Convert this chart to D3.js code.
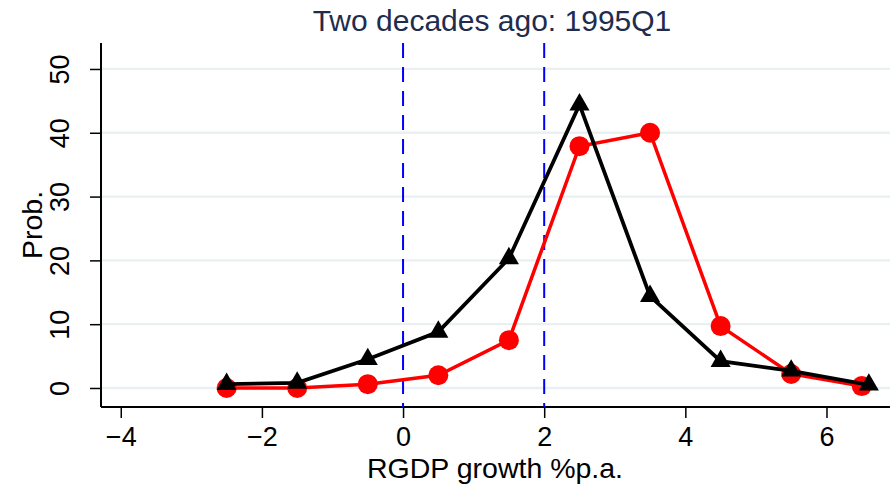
<!DOCTYPE html>
<html>
<head>
<meta charset="utf-8">
<script src="https://cdn.jsdelivr.net/npm/d3@7"></script>
<style>
  body { margin: 0; background: #fff; }
  svg { display: block; font-family: "Liberation Sans", Arial, sans-serif; }
</style>
</head>
<body>
<div id="chart_div"></div>
<script>
// values
const redBins = [-2.5, -1.5, -0.5, 0.5, 1.5, 2.5, 3.5, 4.5, 5.5, 6.5];
const redProb = [0, 0, 0.6, 2.0, 7.5, 37.9, 40.0, 9.7, 2.2, 0.3];
const blackBins = [-2.5, -1.5, -0.5, 0.5, 1.5, 2.5, 3.5, 4.5, 5.5, 6.6];
const blackProb = [0.6, 0.8, 4.5, 8.8, 20.3, 44.4, 14.4, 4.2, 2.7, 0.5];
const xTicks = [-4, -2, 0, 2, 4, 6];
const yTicks = [0, 10, 20, 30, 40, 50];
const refLines = [0, 2];
const titleText = "Two decades ago: 1995Q1";
const xTitle = "RGDP growth %p.a.";
const yTitle = "Prob.";

const width = 890, height = 486;
const plot = {left: 101, right: 890, top: 43, bottom: 407};

const svg = d3.select("#chart_div")
    .append("svg")
    .attr("width", width)
    .attr("height", height);

let xScale = d3.scaleLinear()
            .domain([-4.28, 6.9])
            .range([plot.left, plot.right]);

let yScale = d3.scaleLinear()
            .domain([-2.98, 54.07])
            .range([plot.bottom, plot.top]);

// grid lines
svg.append("g")
    .selectAll("line")
    .data(yTicks)
    .join("line")
    .attr("x1", plot.left)
    .attr("x2", plot.right)
    .attr("y1", d => yScale(d))
    .attr("y2", d => yScale(d))
    .attr("stroke", "#e9f0f2")
    .attr("stroke-width", 2.3);

// y axis
let yAxis = svg.append("g")
    .attr("transform", "translate(" + plot.left + ",0)")
    .call(d3.axisLeft(yScale).tickValues(yTicks).tickSize(11));
yAxis.select(".domain")
    .attr("d", "M0," + plot.top + "V" + plot.bottom)
    .attr("stroke-width", 2);
yAxis.selectAll(".tick line").attr("stroke-width", 1.5);
yAxis.selectAll(".tick text")
    .attr("font-size", 27)
    .attr("fill", "#000")
    .attr("text-anchor", "middle")
    .attr("dy", 0)
    .attr("x", 0)
    .attr("transform", "translate(-32,0) rotate(-90)");

// x axis
let xAxis = svg.append("g")
    .attr("transform", "translate(0," + plot.bottom + ")")
    .call(d3.axisBottom(xScale).tickValues(xTicks).tickSize(11));
xAxis.select(".domain")
    .attr("d", "M" + plot.left + ",0H" + plot.right)
    .attr("stroke-width", 2);
xAxis.selectAll(".tick line").attr("stroke-width", 1.5);
xAxis.selectAll(".tick text")
    .attr("font-size", 27)
    .attr("fill", "#000")
    .attr("dy", 0)
    .attr("y", 39);

// reference lines
svg.append("g")
    .selectAll("line")
    .data(refLines)
    .join("line")
    .attr("x1", d => xScale(d))
    .attr("x2", d => xScale(d))
    .attr("y1", plot.top)
    .attr("y2", plot.bottom)
    .attr("stroke", "#0000ff")
    .attr("stroke-width", 2)
    .attr("stroke-dasharray", "15,9");

const line = d3.line()
    .x(d => xScale(d[0]))
    .y(d => yScale(d[1]));

const redData = redBins.map((b, i) => [b, redProb[i]]);
const blackData = blackBins.map((b, i) => [b, blackProb[i]]);

// red series
svg.append("path")
    .datum(redData)
    .attr("fill", "none")
    .attr("stroke", "#ff0000")
    .attr("stroke-width", 3.5)
    .attr("d", line);
svg.append("g")
    .selectAll("circle")
    .data(redData)
    .join("circle")
    .attr("cx", d => xScale(d[0]))
    .attr("cy", d => yScale(d[1]))
    .attr("r", 10)
    .attr("fill", "#ff0000");

// black series
svg.append("path")
    .datum(blackData)
    .attr("fill", "none")
    .attr("stroke", "#000")
    .attr("stroke-width", 3.8)
    .attr("d", line);
svg.append("g")
    .selectAll("path")
    .data(blackData)
    .join("path")
    .attr("transform", d => "translate(" + xScale(d[0]) + "," + yScale(d[1]) + ")")
    .attr("d", d3.symbol(d3.symbolTriangle, 175))
    .attr("fill", "#000");

// titles
svg.append("text")
    .attr("x", 492)
    .attr("y", 31)
    .attr("text-anchor", "middle")
    .attr("font-size", 30)
    .attr("fill", "#1f2c4d")
    .text(titleText);

svg.append("text")
    .attr("x", 495)
    .attr("y", 478)
    .attr("text-anchor", "middle")
    .attr("font-size", 28.5)
    .attr("fill", "#000")
    .text(xTitle);

svg.append("text")
    .attr("transform", "translate(42,225) rotate(-90)")
    .attr("text-anchor", "middle")
    .attr("font-size", 28.5)
    .attr("fill", "#000")
    .text(yTitle);
</script>
</body>
</html>
